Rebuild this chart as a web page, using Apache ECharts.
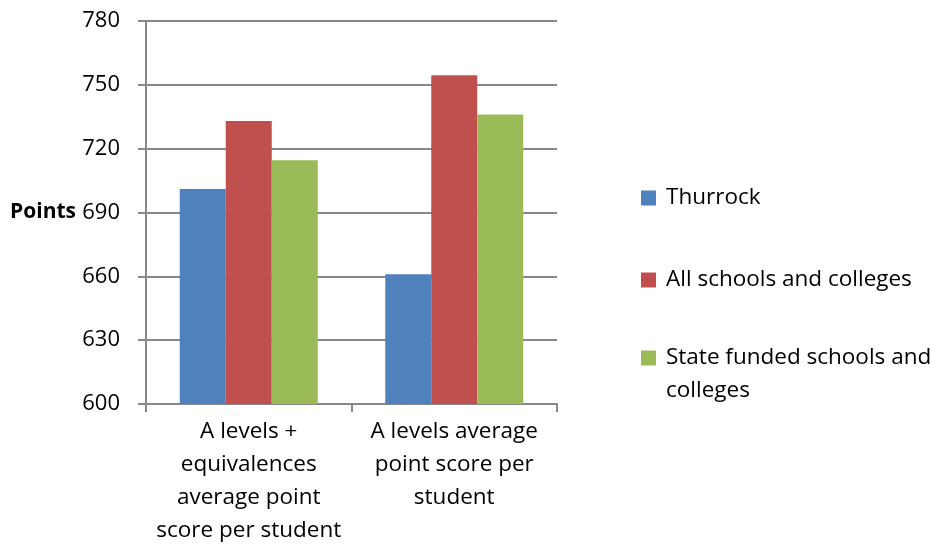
<!DOCTYPE html>
<html>
<head>
<meta charset="utf-8">
<script src="https://cdn.jsdelivr.net/npm/echarts@6/dist/echarts.min.js"></script>
<style>
html,body{margin:0;padding:0;background:#fff;}
#chart{width:936px;height:550px;}
</style>
</head>
<body>
<div id="chart"></div>
<script>
var categories = ["A levels +\nequivalences\naverage point\nscore per student", "A levels average\npoint score per\nstudent"];
var seriesNames = ["Thurrock", "All schools and colleges", "State funded schools and colleges"];
var thurrock = [701, 661];
var allSchools = [733, 754.5];
var stateFunded = [714.5, 736];
var yTicks = {min: 600, max: 780, interval: 30};
var yAxisName = "Points";

var colors = ["#4F81BD", "#C0504D", "#9BBB59"];
var FONT = "Open Sans";
var LINE = '#888888';
var chart = echarts.init(document.getElementById('chart'));
var values = [thurrock, allSchools, stateFunded];
chart.setOption({
  animation: false,
  textStyle: {fontFamily: FONT},
  grid: {left: 146, right: 379, top: 21, bottom: 146},
  legend: [{
    data: [seriesNames[0], seriesNames[1]],
    orient: 'vertical', left: 641, top: 186.5, padding: 0,
    itemWidth: 15, itemHeight: 15, itemGap: 59,
    icon: 'rect',
    textStyle: {fontFamily: FONT, fontSize: 22.5, color: '#000', lineHeight: 15, padding: [0, 0, 0, 5]}
  }, {
    data: [seriesNames[2]],
    orient: 'vertical', left: 641, top: 341.5, padding: 0,
    itemWidth: 15, itemHeight: 48,
    icon: 'path://M0,0H15V15H0Z M0,47.9H0.1V48H0Z',
    formatter: function (n) { return 'State funded schools and\ncolleges'; },
    textStyle: {fontFamily: FONT, fontSize: 22.5, color: '#000', lineHeight: 33, padding: [0, 0, 0, 5]}
  }],
  xAxis: {
    type: 'category',
    data: categories,
    axisLine: {lineStyle: {color: LINE, width: 2}},
    axisTick: {show: true, length: 8, lineStyle: {color: LINE, width: 2}},
    axisLabel: {interval: 0, margin: 11, fontFamily: FONT, fontSize: 22.5, color: '#000', lineHeight: 33, align: 'center'}
  },
  yAxis: {
    type: 'value',
    min: yTicks.min, max: yTicks.max, interval: yTicks.interval,
    name: yAxisName,
    nameLocation: 'middle', nameRotate: 0, nameGap: 70,
    nameTextStyle: {fontFamily: FONT, fontSize: 21, fontWeight: 'bold', color: '#000', align: 'right', verticalAlign: 'middle'},
    axisLine: {show: true, lineStyle: {color: LINE, width: 2}},
    axisTick: {show: true, length: 8, lineStyle: {color: LINE, width: 2}},
    splitLine: {show: true, lineStyle: {color: LINE, width: 2}},
    axisLabel: {margin: 26, fontFamily: FONT, fontSize: 22, color: '#000'}
  },
  series: seriesNames.map(function (n, i) {
    return {
      name: n, type: 'bar', data: values[i],
      barWidth: 46, barGap: '0%',
      itemStyle: {color: colors[i]}
    };
  })
});
</script>
</body>
</html>
